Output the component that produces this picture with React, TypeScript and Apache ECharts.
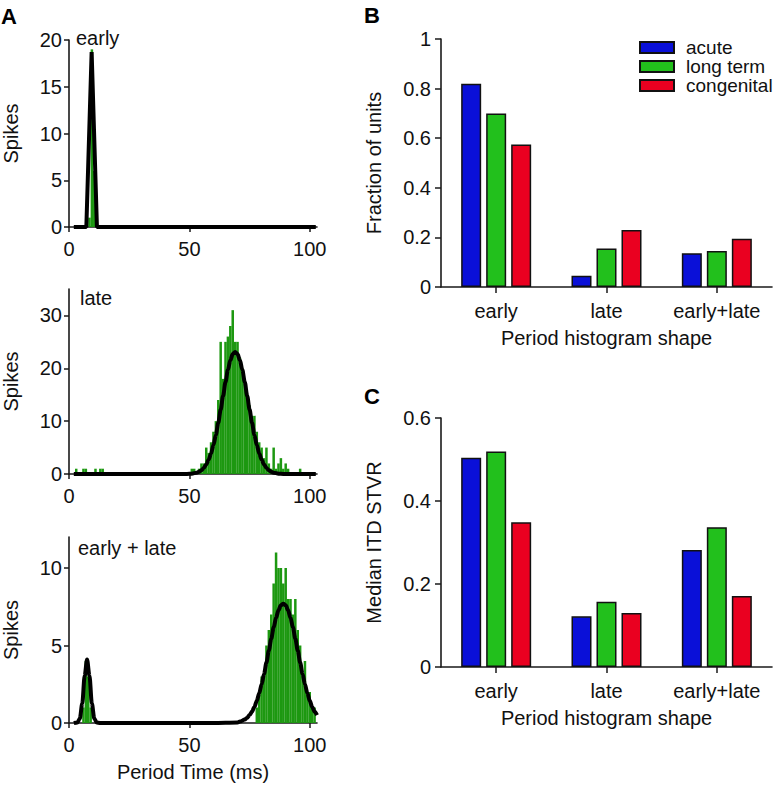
import React, { useEffect, useRef } from "react";
import * as echarts from "echarts";

// ---------- Panel A data (period histograms, 1 ms bins: [time ms, spikes]) ----------
const periodTicks = [0, 50, 100];

const earlyHist = [
  [8.5, 1], [9.5, 19], [10.5, 6], [11.5, 1],
];
const earlyFit = [
  [2, 0], [7.2, 0], [9.4, 18.7], [11.6, 0], [102.5, 0],
];

const lateHist = [
  [3, 1], [6, 1], [7, 1], [11, 1], [13, 1], [14, 1],
  [51, 1], [52, 1], [54, 1], [55, 2], [56, 2], [57, 5], [58, 4], [59, 6], [60, 8],
  [61, 10], [62, 14], [63, 25], [64, 18], [65, 25], [66, 26], [67, 28], [68, 31],
  [69, 25], [70, 25], [71, 22], [72, 20], [73, 17], [74, 15], [75, 13], [76, 11],
  [77, 11], [78, 8], [79, 6], [80, 5], [81, 3], [82, 5], [83, 2], [84, 1], [85, 5],
  [86, 1], [87, 2], [88, 3], [89, 1], [90, 2], [91, 1], [96, 1],
];
const lateFit = [
  [2, 0], [49, 0.02], [51, 0.07], [53, 0.24], [54, 0.42], [55, 0.71], [56, 1.14],
  [57, 1.8], [58, 2.7], [59, 3.9], [60, 5.5], [61, 7.4], [62, 9.7], [63, 12.2],
  [64, 14.8], [65, 17.4], [66, 19.7], [67, 21.5], [68, 22.7], [69, 23.1], [70, 22.7],
  [71, 21.5], [72, 19.7], [73, 17.4], [74, 14.8], [75, 12.2], [76, 9.7], [77, 7.4],
  [78, 5.5], [79, 3.9], [80, 2.7], [81, 1.8], [82, 1.14], [83, 0.71], [84, 0.42],
  [85, 0.24], [87, 0.07], [89, 0.02], [102.5, 0],
];

const bothHist = [
  [6, 1], [7, 4], [8, 3], [9, 1],
  [78, 1], [79, 2], [80, 3], [81, 3], [82, 5], [83, 6], [84, 7], [85, 9], [86, 11],
  [87, 10], [88, 10], [89, 9], [90, 10], [91, 8], [92, 8], [93, 7], [94, 8], [95, 6],
  [96, 5], [97, 3], [98, 4], [99, 2], [100, 2], [101, 1], [102, 1],
];
const bothFit = [
  [2, 0], [3.5, 0.04], [4.5, 0.29], [5.5, 1.26], [6.5, 3.05], [7.5, 4.1], [8.5, 3.05],
  [9.5, 1.26], [10.5, 0.29], [11.5, 0.04], [13, 0], [60, 0], [70, 0.03], [71, 0.09],
  [73, 0.22], [74, 0.34], [75, 0.51], [76, 0.74], [77, 1.04], [78, 1.43], [79, 1.92],
  [80, 2.5], [81, 3.16], [82, 3.9], [83, 4.67], [84, 5.44], [85, 6.17], [86, 6.79],
  [87, 7.28], [88, 7.59], [89, 7.7], [90, 7.59], [91, 7.28], [92, 6.79], [93, 6.17],
  [94, 5.44], [95, 4.67], [96, 3.9], [97, 3.16], [98, 2.5], [99, 1.92], [100, 1.43],
  [101, 1.04], [102, 0.74], [103, 0.51],
];

// ---------- Panels B and C ----------
const shapeCategories = ["early", "late", "early+late"];
const groupNames = ["acute", "long term", "congenital"];
const groupColors = ["#0a10d8", "#22c01c", "#ea0020"];

const fractionAcute = [0.82, 0.045, 0.136];
const fractionLongTerm = [0.70, 0.155, 0.145];
const fractionCongenital = [0.575, 0.23, 0.195];

const stvrAcute = [0.504, 0.122, 0.282];
const stvrLongTerm = [0.519, 0.157, 0.337];
const stvrCongenital = [0.349, 0.13, 0.171];

const FONT = '"Liberation Sans", Arial, Helvetica, sans-serif';
const FS = 20;
const AXIS_COLOR = "#1a1a1a";
const HIST_GREEN = "#1d9811";

const axisLine = { show: true, lineStyle: { color: AXIS_COLOR, width: 1.6 } };

function histX(gridIndex: number, showName: boolean) {
  return {
    type: "value",
    gridIndex,
    min: 0,
    max: 103,
    interval: 50,
    axisLine,
    axisTick: { show: true, length: 5, customValues: periodTicks, lineStyle: { color: AXIS_COLOR, width: 1.5 } },
    axisLabel: { customValues: periodTicks, color: "#111", fontSize: FS, fontFamily: FONT, margin: 12 },
    splitLine: { show: false },
    name: showName ? "Period Time (ms)" : "",
    nameLocation: "middle",
    nameGap: 39,
    nameTextStyle: { color: "#111", fontSize: FS, fontFamily: FONT },
  };
}

function histY(gridIndex: number, max: number, interval: number, ticks: number[]) {
  return {
    type: "value",
    gridIndex,
    min: 0,
    max,
    interval,
    axisLine,
    axisTick: { show: true, length: 5, customValues: ticks, lineStyle: { color: AXIS_COLOR, width: 1.5 } },
    axisLabel: { customValues: ticks, color: "#111", fontSize: FS, fontFamily: FONT, margin: 7 },
    splitLine: { show: false },
    name: "Spikes",
    nameLocation: "middle",
    nameGap: 48,
    nameTextStyle: { color: "#111", fontSize: FS, fontFamily: FONT },
  };
}

function catX(gridIndex: number) {
  return {
    type: "category",
    gridIndex,
    data: shapeCategories,
    axisLine,
    axisTick: { show: true, alignWithLabel: true, interval: 0, length: 6, lineStyle: { color: AXIS_COLOR, width: 1.5 } },
    axisLabel: { interval: 0, hideOverlap: false, color: "#111", fontSize: FS, fontFamily: FONT, margin: 14 },
    name: "Period histogram shape",
    nameLocation: "middle",
    nameGap: 41,
    nameTextStyle: { color: "#111", fontSize: FS, fontFamily: FONT },
  };
}

function barY(gridIndex: number, max: number, name: string) {
  return {
    type: "value",
    gridIndex,
    min: 0,
    max,
    interval: 0.2,
    axisLine,
    axisTick: { show: true, length: 6, lineStyle: { color: AXIS_COLOR, width: 1.5 } },
    axisLabel: { color: "#111", fontSize: FS, fontFamily: FONT, margin: 10 },
    splitLine: { show: false },
    name,
    nameLocation: "middle",
    nameGap: 57,
    nameTextStyle: { color: "#111", fontSize: FS, fontFamily: FONT },
  };
}

function histSeries(idx: number, hist: number[][], fit: number[][], smooth: boolean) {
  return [
    {
      type: "bar",
      xAxisIndex: idx,
      yAxisIndex: idx,
      data: hist,
      barWidth: 2.5,
      itemStyle: { color: HIST_GREEN },
      z: 2,
    },
    {
      type: "line",
      xAxisIndex: idx,
      yAxisIndex: idx,
      data: fit,
      symbol: "none",
      smooth: smooth ? 0.3 : false,
      smoothMonotone: "x",
      lineStyle: { color: "#000", width: 4 },
      z: 3,
    },
  ];
}

function groupSeries(idx: number, values: number[][]) {
  return values.map((vals, i) => ({
    type: "bar",
    name: groupNames[i],
    xAxisIndex: idx,
    yAxisIndex: idx,
    data: vals,
    barWidth: 20,
    barGap: "25%",
    itemStyle: { color: groupColors[i], borderColor: "#111", borderWidth: 1.5 },
  }));
}

export default function App() {
  const ref = useRef<HTMLDivElement>(null);

  useEffect(() => {
    if (!ref.current) return;
    const chart = echarts.init(ref.current, undefined, { renderer: "svg" });
    const option: any = {
      animation: false,
      backgroundColor: "#ffffff",
      textStyle: { fontFamily: FONT },
      grid: [
        { left: 69, top: 40, width: 248, height: 187 },
        { left: 69, top: 289, width: 248, height: 185 },
        { left: 69, top: 537, width: 248, height: 186 },
        { left: 441, top: 39, width: 331, height: 248 },
        { left: 441, top: 418, width: 331, height: 249 },
      ],
      xAxis: [histX(0, false), histX(1, false), histX(2, true), catX(3), catX(4)],
      yAxis: [
        histY(0, 20, 5, [0, 5, 10, 15, 20]),
        histY(1, 35, 10, [0, 10, 20, 30]),
        histY(2, 12, 5, [0, 5, 10]),
        barY(3, 1, "Fraction of units"),
        barY(4, 0.6, "Median ITD STVR"),
      ],
      legend: {
        data: groupNames,
        orient: "vertical",
        left: 639,
        top: 38,
        padding: 0,
        itemWidth: 34,
        itemHeight: 11,
        itemGap: 0,
        icon: "rect",
        textStyle: { color: "#111", fontSize: 19, fontFamily: FONT, lineHeight: 18, padding: [0, 0, 0, 7] },
      },
      series: [
        ...histSeries(0, earlyHist, earlyFit, false),
        ...histSeries(1, lateHist, lateFit, true),
        ...histSeries(2, bothHist, bothFit, true),
        ...groupSeries(3, [fractionAcute, fractionLongTerm, fractionCongenital]),
        ...groupSeries(4, [stvrAcute, stvrLongTerm, stvrCongenital]),
      ],
      graphic: [
        { type: "text", left: 1, top: 5, style: { text: "A", fill: "#000", font: `bold 22px ${FONT}` } },
        { type: "text", left: 364, top: 4, style: { text: "B", fill: "#000", font: `bold 22px ${FONT}` } },
        { type: "text", left: 364, top: 385, style: { text: "C", fill: "#000", font: `bold 22px ${FONT}` } },
        { type: "text", left: 76, top: 28, style: { text: "early", fill: "#111", font: `${FS}px ${FONT}` } },
        { type: "text", left: 80, top: 288, style: { text: "late", fill: "#111", font: `${FS}px ${FONT}` } },
        { type: "text", left: 78, top: 538, style: { text: "early + late", fill: "#111", font: `${FS}px ${FONT}` } },
      ],
    };
    chart.setOption(option);
    return () => chart.dispose();
  }, []);

  return (
    <div
      ref={ref}
      style={{ position: "fixed", left: 0, top: 0, width: 780, height: 785, background: "#fff" }}
    />
  );
}
